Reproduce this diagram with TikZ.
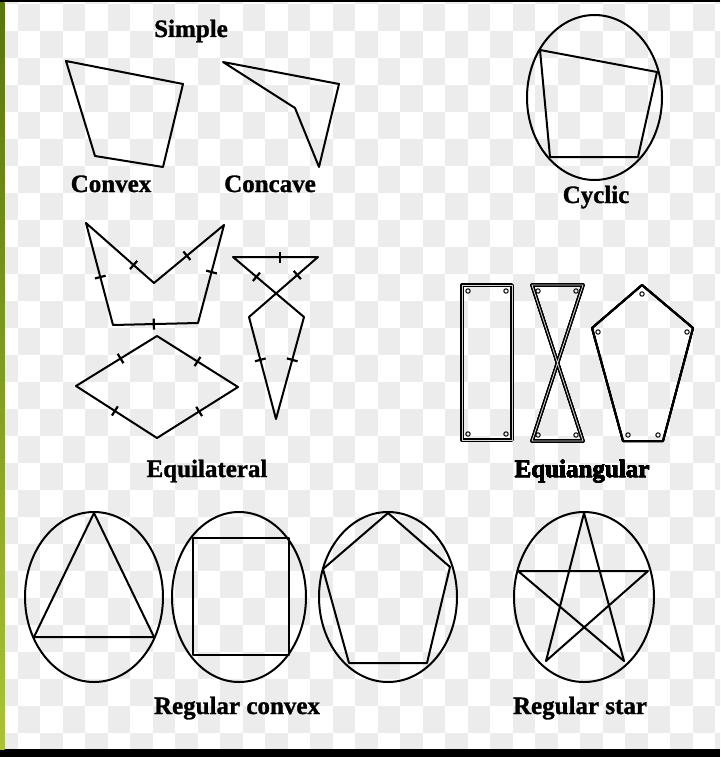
\documentclass[tikz,border=0pt]{standalone}
\usepackage{fontspec}
\setmainfont{Liberation Serif}[BoldFeatures={FakeBold=1.2}]
\usetikzlibrary{calc}

% short bar across an edge, at fraction #3 from #1 to #2
\newcommand\tickmark[3]{%
  \coordinate (tm) at ($(#1)!#3!(#2)$);
  \draw[tickline] ($(tm)!5.5pt!90:(#2)$) -- ($(tm)!5.5pt!-90:(#2)$);}
% small right-angle mark inside a corner
\newcommand\anglemark[2]{\draw[line width=1pt] (#1,#2) circle (2.2pt);}

\begin{document}
\begin{tikzpicture}[x=1pt,y=-1pt,line join=round,
  outline/.style={line width=2pt},
  twin/.style={line width=1.3pt,double=white!70!gray,double distance=0.8pt},
  tickline/.style={line width=2.2pt},
  lbl/.style={anchor=base,font=\bfseries\fontsize{25}{28}\selectfont}]
\definecolor{checker}{RGB}{236,236,236}
\definecolor{leafdark}{RGB}{88,118,14}
\definecolor{leaflight}{RGB}{170,196,52}
\useasboundingbox (0,0) rectangle (720,757);
\fill[white] (0,0) rectangle (720,757);
% transparency checkerboard behind the drawing
\begin{scope}
\clip (0,0) rectangle (720,757);
\foreach \i in {-1,...,28}{
  \foreach \j in {-1,...,31}{
    \pgfmathtruncatemacro\cell{mod(\i+\j+4,2)}
    \ifnum\cell=0
      \fill[checker] (17.5+22.5*\j,4+27*\i) rectangle ++(22.5,27);
    \fi}}
\end{scope}
\fill[black] (0,0) rectangle (720,2.5);
\fill[black] (0,749) rectangle (720,757);
\shade[top color=leafdark,bottom color=leaflight] (0,2.5) rectangle (4.5,749);

% Simple
\node[lbl] (simple) at (191,37) {Simple};
\draw[outline] (66,61) -- (183,84) -- (163,167) -- (95,156) -- cycle;
\node[lbl] (convex) at (111,192) {Convex};
\draw[outline] (223,62) -- (339,84) -- (319,167) -- (295,108) -- cycle;
\node[lbl] (concave) at (270,192) {Concave};

% Cyclic
\draw[outline] (594.5,97.5) ellipse [x radius=67.5,y radius=82.5];
\draw[outline] (540,50) -- (657,72) -- (638,157) -- (550,157) -- cycle;
\node[lbl] (cyclic) at (596,203) {Cyclic};

% Equilateral
\coordinate (c1) at (86,223);  \coordinate (c2) at (154,283);
\coordinate (c3) at (224,225); \coordinate (c4) at (198,323);
\coordinate (c5) at (113,325);
\draw[outline] (c1) -- (c2) -- (c3) -- (c4) -- (c5) -- cycle;
\tickmark{c1}{c2}{.7} \tickmark{c2}{c3}{.47} \tickmark{c3}{c4}{.48}
\tickmark{c4}{c5}{.52} \tickmark{c5}{c1}{.47}
\coordinate (r1) at (157,336); \coordinate (r2) at (238,387);
\coordinate (r3) at (157,438); \coordinate (r4) at (76,386);
\draw[outline] (r1) -- (r2) -- (r3) -- (r4) -- cycle;
\tickmark{r4}{r1}{.55} \tickmark{r1}{r2}{.5}
\tickmark{r2}{r3}{.48} \tickmark{r3}{r4}{.52}
\coordinate (k1) at (233,257); \coordinate (k2) at (318,257);
\coordinate (k3) at (249,317); \coordinate (k4) at (276,419);
\coordinate (k5) at (304,317);
\draw[outline] (k1) -- (k2) -- (k3) -- (k4) -- (k5) -- cycle;
\tickmark{k1}{k2}{.55} \tickmark{k2}{k3}{.3} \tickmark{k1}{k5}{.33}
\tickmark{k3}{k4}{.42} \tickmark{k5}{k4}{.42}
\node[lbl] (equilateral) at (207,477) {Equilateral};

% Equiangular
\draw[twin] (462,285) rectangle (512,440);
\foreach \x/\y in {468/291,506/291,468/434,506/434}
  \anglemark{\x}{\y}
\draw[twin] (532,285) -- (583,285) -- (532,441) -- (583,441) -- cycle;
\foreach \x/\y in {538/291,576/291,538/435,576/435}
  \anglemark{\x}{\y}
\draw[outline] (642,285) -- (693,328) -- (663,441) -- (623,441) -- (592,328) -- cycle;
\foreach \x/\y in {642/294,687/332,658/435,628/435,598/332}
  \anglemark{\x}{\y}
\node[lbl] (equiangular) at (582,477) {Equiangular};

% Regular convex
\draw[outline] (94,597) ellipse [x radius=69,y radius=85];
\draw[outline] (94,513) -- (154,637) -- (34,637) -- cycle;
\draw[outline] (239,597) ellipse [x radius=67,y radius=85];
\draw[outline] (193,538) rectangle (289,655);
\draw[outline] (388,597) ellipse [x radius=69,y radius=85];
\draw[outline] (388,513) -- (450,567) -- (427,663) -- (349,663) -- (323,569) -- cycle;
\node[lbl] (regconvex) at (237,714) {Regular convex};

% Regular star
\draw[outline] (584,597) ellipse [x radius=70,y radius=85];
\draw[outline] (584,513) -- (624,661) -- (518,571) -- (648,571) -- (546,661) -- cycle;
\node[lbl] (regstar) at (580,714) {Regular star};
\end{tikzpicture}
\end{document}
